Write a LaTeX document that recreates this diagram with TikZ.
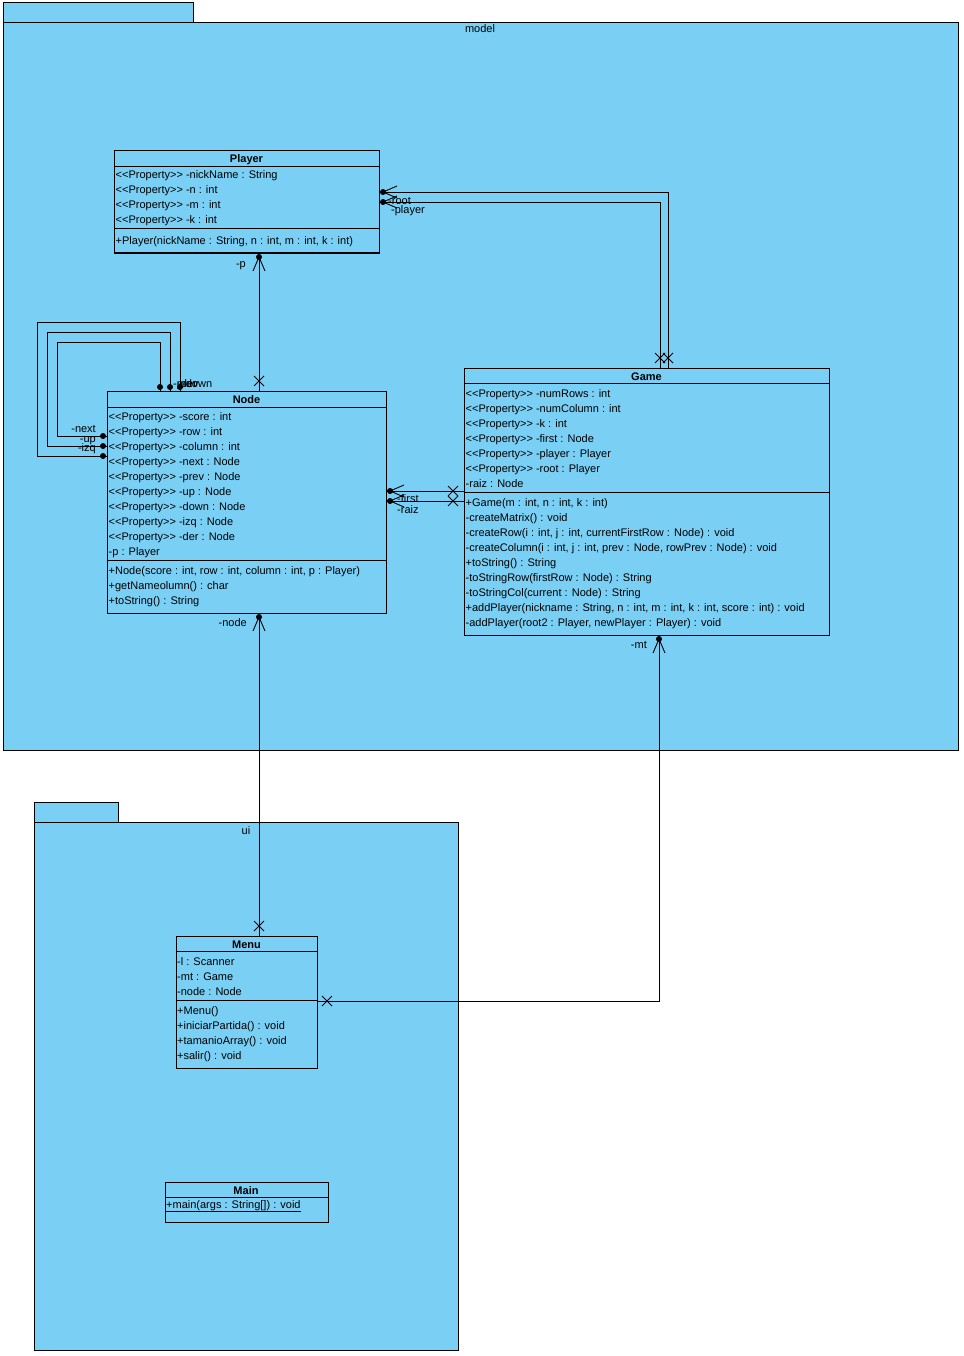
\documentclass[tikz,border=0pt]{standalone}
\usepackage{fontspec}
\setmainfont{Liberation Sans}
\definecolor{vpblue}{RGB}{122,207,245}
\newcommand\umlfont{\fontsize{11}{13}\selectfont}
\newcommand\umlbold{\fontsize{11}{13}\selectfont\bfseries}
\tikzset{
  pkgbox/.style={draw=black, fill=vpblue, line width=1pt, inner sep=0pt, outer sep=0pt, anchor=north west},
  cls/.style={draw=black, fill=vpblue, line width=1pt, inner sep=0pt, outer sep=0pt, anchor=north west},
  txt/.style={anchor=base west, inner sep=0pt, font=\umlfont},
  ttl/.style={anchor=base, inner sep=0pt, font=\umlbold},
  lbl/.style={anchor=base west, inner sep=0pt, font=\umlfont},
  lble/.style={anchor=base east, inner sep=0pt, font=\umlfont},
  pname/.style={anchor=base, inner sep=0pt, font=\umlfont},
  conn/.style={line width=0.9pt},
  sepline/.style={line width=1pt},
  navR/.pic={\fill (0,0) circle (3pt); \draw[line width=0.9pt] (14,-6) -- (0,0) -- (14,6);},
  navD/.pic={\fill (0,0) circle (3pt); \draw[line width=0.9pt] (-6,14) -- (0,0) -- (6,14);},
  umldot/.pic={\fill (0,0) circle (3pt);},
  xmark/.pic={\draw[line width=0.9pt] (-5,-5) -- (5,5) (-5,5) -- (5,-5);}
}
\begin{document}
\begin{tikzpicture}[x=1pt,y=-1pt]
\useasboundingbox (0,0) rectangle (963,1356);
\fill[white] (0,0) rectangle (963,1356);

% packages
\node[pkgbox, minimum width=190, minimum height=20] (modeltab) at (3,3) {};
\node[pkgbox, minimum width=955, minimum height=727] (model) at (3,23) {};
\node[pname] (modelname) at (480,33) {model};
\node[pkgbox, minimum width=84, minimum height=20] (uitab) at (34,802) {};
\node[pkgbox, minimum width=424, minimum height=528] (ui) at (34,822) {};
\node[pname] (uiname) at (246,834) {ui};

% classes
\node[cls, minimum width=265, minimum height=102] (player) at (114,151) {};
\node[cls, minimum width=279, minimum height=222] (nodecls) at (107,391) {};
\node[cls, minimum width=365, minimum height=267] (game) at (464,368) {};
\node[cls, minimum width=141, minimum height=132] (menu) at (176,936) {};
\node[cls, minimum width=163, minimum height=40] (main) at (165,1182) {};

% Player
\node[ttl] (playert) at (246.5,163) {Player};
\draw[sepline] (player.west |- 0,167) -- (player.east |- 0,167);
\draw[sepline] (player.west |- 0,229) -- (player.east |- 0,229);
\foreach \t [count=\i from 0] in {{<{}<Property>{}> -nickName : String},{<{}<Property>{}> -n : int},{<{}<Property>{}> -m : int},{<{}<Property>{}> -k : int}}
  \node[txt] (pa\i) at (115.5,{179+15*\i}) {\t};
\node[txt] (pm0) at (115.5,244) {+Player(nickName : String, n : int, m : int, k : int)};

% Node
\node[ttl] (nodet) at (246.5,403) {Node};
\draw[sepline] (nodecls.west |- 0,407) -- (nodecls.east |- 0,407);
\draw[sepline] (nodecls.west |- 0,560) -- (nodecls.east |- 0,560);
\foreach \t [count=\i from 0] in {{<{}<Property>{}> -score : int},{<{}<Property>{}> -row : int},{<{}<Property>{}> -column : int},{<{}<Property>{}> -next : Node},{<{}<Property>{}> -prev : Node},{<{}<Property>{}> -up : Node},{<{}<Property>{}> -down : Node},{<{}<Property>{}> -izq : Node},{<{}<Property>{}> -der : Node},{-p : Player}}
  \node[txt] (na\i) at (108.5,{420+15*\i}) {\t};
\foreach \t [count=\i from 0] in {{+Node(score : int, row : int, column : int, p : Player)},{+getNameolumn() : char},{+toString() : String}}
  \node[txt] (nm\i) at (108.5,{574+15*\i}) {\t};

% Game
\node[ttl] (gamet) at (646.5,380) {Game};
\draw[sepline] (game.west |- 0,383) -- (game.east |- 0,383);
\draw[sepline] (game.west |- 0,492) -- (game.east |- 0,492);
\foreach \t [count=\i from 0] in {{<{}<Property>{}> -numRows : int},{<{}<Property>{}> -numColumn : int},{<{}<Property>{}> -k : int},{<{}<Property>{}> -first : Node},{<{}<Property>{}> -player : Player},{<{}<Property>{}> -root : Player},{-raiz : Node}}
  \node[txt] (ga\i) at (465.5,{397+15*\i}) {\t};
\foreach \t [count=\i from 0] in {{+Game(m : int, n : int, k : int)},{-createMatrix() : void},{-createRow(i : int, j : int, currentFirstRow : Node) : void},{-createColumn(i : int, j : int, prev : Node, rowPrev : Node) : void},{+toString() : String},{-toStringRow(firstRow : Node) : String},{-toStringCol(current : Node) : String},{+addPlayer(nickname : String, n : int, m : int, k : int, score : int) : void},{-addPlayer(root2 : Player, newPlayer : Player) : void}}
  \node[txt] (gm\i) at (465.5,{506+15*\i}) {\t};

% Menu
\node[ttl] (menut) at (246.5,948) {Menu};
\draw[sepline] (menu.west |- 0,951) -- (menu.east |- 0,951);
\draw[sepline] (menu.west |- 0,1000) -- (menu.east |- 0,1000);
\foreach \t [count=\i from 0] in {{-l : Scanner},{-mt : Game},{-node : Node}}
  \node[txt] (ma\i) at (177,{965+15*\i}) {\t};
\foreach \t [count=\i from 0] in {{+Menu()},{+iniciarPartida() : void},{+tamanioArray() : void},{+salir() : void}}
  \node[txt] (mm\i) at (177,{1014+15*\i}) {\t};

% Main
\node[ttl] (maint) at (246,1194) {Main};
\draw[sepline] (main.west |- 0,1197) -- (main.east |- 0,1197);
\node[txt] (mainm) at (166,1208) {\underline{+main(args : String[]) : void}};

% connectors
\draw[conn] (player.east |- 0,192) -| (game.north -| 668,0);
\draw[conn] (player.east |- 0,202) -| (game.north -| 660,0);
\draw[conn] (player.south -| 259,0) -- (nodecls.north -| 259,0);
\draw[conn] (nodecls.east |- 0,491) -- (game.west |- 0,491);
\draw[conn] (nodecls.east |- 0,501) -- (game.west |- 0,501);
\draw[conn] (nodecls.west |- 0,436) -| (57,342) -| (nodecls.north -| 160,0);
\draw[conn] (nodecls.west |- 0,446) -| (47,332) -| (nodecls.north -| 170,0);
\draw[conn] (nodecls.west |- 0,456) -| (37,322) -| (nodecls.north -| 180,0);
\draw[conn] (nodecls.south -| 259,0) -- (menu.north -| 259,0);
\draw[conn] (menu.east |- 0,1001) -| (game.south -| 659,0);

% association ends
\pic at (383,192) {navR};
\pic at (383,202) {navR};
\pic at (259,257) {navD};
\pic at (390,491) {navR};
\pic at (390,501) {navR};
\pic at (259,617) {navD};
\pic at (659,639) {navD};
\pic at (160,387) {umldot};
\pic at (170,387) {umldot};
\pic at (180,387) {umldot};
\pic at (103,436) {umldot};
\pic at (103,446) {umldot};
\pic at (103,456) {umldot};
\pic at (660,358) {xmark};
\pic at (668,358) {xmark};
\pic at (259,381) {xmark};
\pic at (453,491) {xmark};
\pic at (453,501) {xmark};
\pic at (259,926) {xmark};
\pic at (327,1001) {xmark};

% role labels
\node[lbl] (lroot) at (388,205) {-root};
\node[lbl] (lplayer) at (391,214) {-player};
\node[lble] (lp) at (246,267) {-p};
\node[lble] (lnext) at (96,432) {-next};
\node[lble] (lup) at (96,442) {-up};
\node[lble] (lizq) at (96,451) {-izq};
\node[lbl] (lprev) at (173,387) {-prev};
\node[lbl] (lder) at (177,387) {-der};
\node[lbl] (ldown) at (182,387) {-down};
\node[lbl] (lfirst) at (397,502) {-first};
\node[lbl] (lraiz) at (397,513) {-raiz};
\node[lble] (lnode) at (247,626) {-node};
\node[lble] (lmt) at (647,648) {-mt};
\end{tikzpicture}
\end{document}
